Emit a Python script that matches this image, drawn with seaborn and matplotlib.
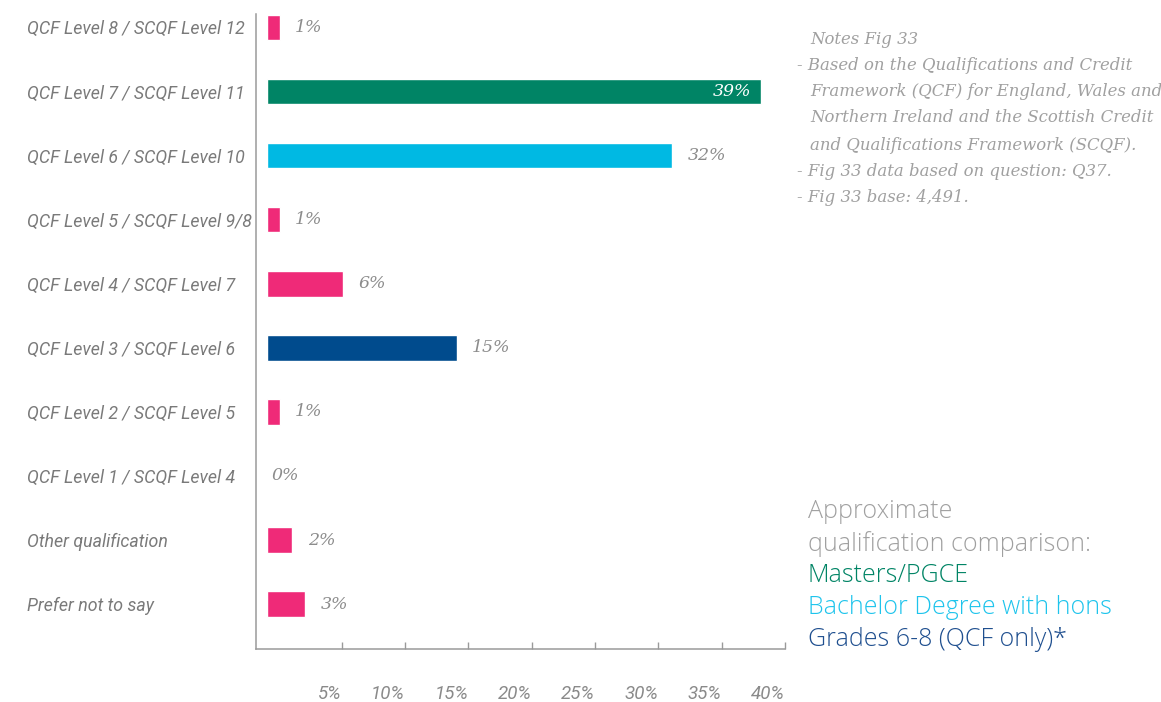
import matplotlib
matplotlib.use("Agg")
import matplotlib.pyplot as plt
import seaborn as sns

# --- Data ---
categories = [
    "QCF Level 8 / SCQF Level 12",
    "QCF Level 7 / SCQF Level 11",
    "QCF Level 6 / SCQF Level 10",
    "QCF Level 5 / SCQF Level 9/8",
    "QCF Level 4 / SCQF Level 7",
    "QCF Level 3 / SCQF Level 6",
    "QCF Level 2 / SCQF Level 5",
    "QCF Level 1 / SCQF Level 4",
    "Other qualification",
    "Prefer not to say",
]
values = [1, 39, 32, 1, 6, 15, 1, 0, 2, 3]
value_labels = ["1%", "39%", "32%", "1%", "6%", "15%", "1%", "0%", "2%", "3%"]
bar_colors = ["#ef2a78", "#008465", "#00b9e3", "#ef2a78", "#ef2a78",
              "#004b8d", "#ef2a78", "#ef2a78", "#ef2a78", "#ef2a78"]
tick_values = [5, 10, 15, 20, 25, 30, 35, 40]
tick_labels = ["5%", "10%", "15%", "20%", "25%", "30%", "35%", "40%"]

notes_lines = [
    "Notes Fig 33",
    "- Based on the Qualifications and Credit",
    "Framework (QCF) for England, Wales and",
    "Northern Ireland and the Scottish Credit",
    "and Qualifications Framework (SCQF).",
    "- Fig 33 data based on question: Q37.",
    "- Fig 33 base: 4,491.",
]
compare_lines = ["Approximate", "qualification comparison:", "Masters/PGCE",
                 "Bachelor Degree with hons", "Grades 6-8 (QCF only)*"]
compare_colors = ["#a0a0a0", "#a0a0a0", "#008465", "#1ec4ec", "#1f4f8f"]

sns.set_theme(style="white")
plt.rcParams["font.family"] = ["Roboto", "DejaVu Sans"]

fig = plt.figure(figsize=(11.61, 7.02), dpi=100)
ax = fig.add_axes([0.2205, 0.0755, 0.4556, 0.9046])

sns.barplot(x=values, y=categories, hue=categories, palette=bar_colors,
            legend=False, width=0.4, saturation=1, ax=ax, orient="h")

ax.set_xlim(-0.87, 40.8)
ax.set_ylim(9.7, -0.21)

# value labels
for i, (v, lab) in enumerate(zip(values, value_labels)):
    if v >= 35:
        ax.annotate(lab, (v, i), xytext=(-7, 0), textcoords="offset points",
                    ha="right", va="center", color="white",
                    family="DejaVu Serif", style="italic", fontsize=12.5)
    else:
        off = 11 if v > 0 else 3
        ax.annotate(lab, (v, i), xytext=(off, 0), textcoords="offset points",
                    ha="left", va="center", color="#8c8c8c",
                    family="DejaVu Serif", style="italic", fontsize=12.5)

# x axis (ticks sit about 0.9% to the right of the value scale, as in the original)
tick_shift = 0.9
ax.set_xticks([t + tick_shift for t in tick_values])
ax.set_xticklabels(tick_labels, ha="right", style="italic", color="#8a8a8a", fontsize=13.5)
ax.tick_params(axis="x", direction="in", length=5, width=1, color="#9a9a9a",
               pad=26, bottom=True)

ax.set_yticks(range(len(categories)))
ax.set_yticklabels(categories, ha="left", va="center_baseline", style="italic",
                   color="#7a7a7a", fontsize=12.8)
ax.tick_params(axis="y", length=0, pad=165)

for side in ["top", "right"]:
    ax.spines[side].set_visible(False)
for side in ["left", "bottom"]:
    ax.spines[side].set_color("#9a9a9a")
    ax.spines[side].set_linewidth(1.1)
ax.set_xlabel("")
ax.set_ylabel("")

# notes
note_y = [40, 66, 92, 118, 145, 172, 198]
for line, yp in zip(notes_lines, note_y):
    xp = 797 if line.startswith("-") else 810
    fig.text(xp / 1161, 1 - yp / 702, line, ha="left", va="center",
             family="DejaVu Serif", style="italic", color="#a0a0a0", fontsize=11.9)

comp_y = [512, 544, 576, 608, 640]
for line, yp, c in zip(compare_lines, comp_y, compare_colors):
    fig.text(808 / 1161, 1 - yp / 702, line, ha="left", va="center",
             color=c, fontsize=18, family="Open Sans", fontweight="light")

fig.savefig("out.png", dpi=100)
